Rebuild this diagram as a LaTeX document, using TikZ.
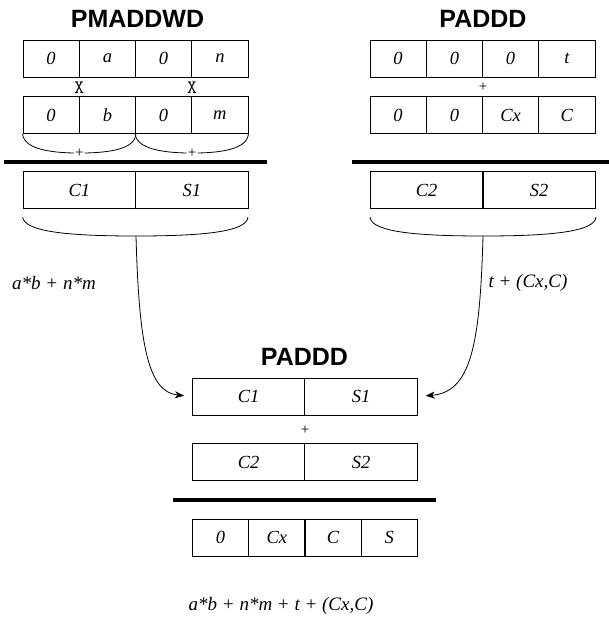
\documentclass[tikz,border=0pt]{standalone}
\usepackage{fontspec}
\setmainfont{Liberation Serif}
\setsansfont{Liberation Sans}
\usetikzlibrary{arrows.meta}
\tikzset{
  cell/.style={draw=black, line width=0.8pt, minimum width=56.25pt, minimum height=37pt, inner sep=0pt, font=\fontsize{18.5}{20}\selectfont\itshape},
  wcell/.style={cell, minimum width=112.5pt},
  ttl/.style={font=\fontsize{25}{27}\selectfont\sffamily\bfseries, inner sep=0pt},
  opx/.style={font=\fontsize{19}{19}\selectfont\ttfamily, inner sep=0pt},
  opp/.style={font=\fontsize{15}{15}\selectfont\rmfamily, inner sep=1pt},
  lbl/.style={font=\fontsize{19}{20}\selectfont\itshape, inner sep=0pt},
  bar/.style={line width=3.5pt},
  brace/.style={line width=0.8pt},
  conn/.style={line width=0.8pt, -{Stealth[length=9pt,width=7pt,inset=2.5pt]}, shorten >=8pt}
}
\begin{document}
\begin{tikzpicture}[x=1pt,y=-1pt]
\useasboundingbox (0,0) rectangle (609,621);
% ---------- left: PMADDWD ----------
\node[ttl] (t1) at (137.5,18.5) {PMADDWD};
\node[cell] (a1) at (51.1,58.5) {0};
\node[cell] (a2) at (107.4,58.5) {a};
\node[cell] (a3) at (163.6,58.5) {0};
\node[cell] (a4) at (219.9,58.5) {n};
\node[opx] (x1) at (79.3,87.5) {X};
\node[opx] (x2) at (192.1,87.5) {X};
\node[cell] (b1) at (51.1,115) {0};
\node[cell] (b2) at (107.4,115) {b};
\node[cell] (b3) at (163.6,115) {0};
\node[cell] (b4) at (219.9,115) {m};
\node[opp] (p1) at (79.3,153) {+};
\node[opp] (p2) at (192.1,153) {+};
\draw[brace] (b1.south west) .. controls (24,149) and (50,152.5) .. (p1.west);
\draw[brace] (p1.east) .. controls (110,152.5) and (135,149) .. (b2.south east);
\draw[brace] (b3.south west) .. controls (137,149) and (163,152.5) .. (p2.west);
\draw[brace] (p2.east) .. controls (222,152.5) and (247,149) .. (b4.south east);
\draw[bar] (4,162) -- (267,162);
\node[wcell] (c1) at (79.3,190) {C1};
\node[wcell] (s1) at (191.8,190) {S1};
\coordinate (bl) at (136,236);
\draw[brace] (c1.south west) ++(0,8) .. controls (24,232) and (70,236) .. (bl)
  .. controls (202,236) and (247,232) .. (248,217);
\node[lbl] (l1) at (54,283) {a*b + n*m};
% ---------- right: PADDD ----------
\node[ttl] (t2) at (483,18.5) {PADDD};
\node[cell] (d1) at (398.1,58.5) {0};
\node[cell] (d2) at (454.4,58.5) {0};
\node[cell] (d3) at (510.6,58.5) {0};
\node[cell] (d4) at (566.9,58.5) {t};
\node[opp] (p3) at (483,87.5) {+};
\node[cell] (e1) at (398.1,115) {0};
\node[cell] (e2) at (454.4,115) {0};
\node[cell] (e3) at (510.6,115) {Cx};
\node[cell] (e4) at (566.9,115) {C};
\draw[bar] (352,162) -- (609,162);
\node[wcell] (c2) at (426.6,190) {C2};
\node[wcell] (s2) at (539.2,190) {S2};
\coordinate (br) at (483,236);
\draw[brace] (370,217) .. controls (371,232) and (417,236) .. (br)
  .. controls (549,236) and (595,232) .. (596,217);
\node[lbl] (l2) at (528,283) {t + (Cx,C)};
% ---------- bottom: PADDD ----------
\node[ttl] (t3) at (304.5,357) {PADDD};
\node[wcell] (f1) at (248.6,396.5) {C1};
\node[wcell] (f2) at (361.1,396.5) {S1};
\node[opp] (p4) at (305,430) {+};
\node[wcell] (g1) at (248.6,462) {C2};
\node[wcell] (g2) at (361.1,462) {S2};
\draw[bar] (173,500) -- (436,500);
\node[cell] (h1) at (220.5,537.5) {0};
\node[cell] (h2) at (276.8,537.5) {Cx};
\node[cell] (h3) at (333,537.5) {C};
\node[cell] (h4) at (389.3,537.5) {S};
\node[lbl] (l3) at (281,606) {a*b + n*m + t + (Cx,C)};
% ---------- connectors ----------
\draw[conn] (bl) .. controls (139,345) and (148,392) .. (f1.west);
\draw[conn] (br) .. controls (480,345) and (471,392) .. (f2.east);
\end{tikzpicture}
\end{document}
